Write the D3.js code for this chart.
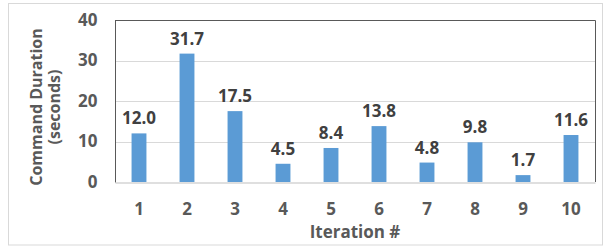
<!DOCTYPE html>
<html><head><meta charset="utf-8">
<script src="https://d3js.org/d3.v7.min.js"></script>
<style>body{margin:0;background:#fff}svg{display:block}</style>
</head><body>
<script>
const categories = ["1","2","3","4","5","6","7","8","9","10"];
const values = [12.0, 31.7, 17.5, 4.5, 8.4, 13.8, 4.8, 9.8, 1.7, 11.6];
const yTicks = [0, 10, 20, 30, 40];
const xTitle = "Iteration #";
const yTitleLines = ["Command Duration", "(seconds)"];

(function () {
const W = 605, H = 246;
const m = {left: 115, right: 10, top: 20, bottom: 64};
const font = "'Open Sans', sans-serif";
const svg = d3.select("body").append("svg").attr("width", W).attr("height", H);

svg.append("rect").attr("x", 8.5).attr("y", 3.5).attr("width", 594).attr("height", 241.5)
  .attr("fill", "#fff").attr("stroke", "#d9d9d9").attr("stroke-width", 1);

const x = d3.scaleBand().domain(categories).range([m.left, W - m.right]).paddingInner(0.69).paddingOuter(0.345);
const y = d3.scaleLinear().domain([0, 40]).range([H - m.bottom, m.top]);

// gridlines
svg.append("g").selectAll("line").data(yTicks.filter(d => d > 0 && d < 40)).join("line")
  .attr("x1", m.left).attr("x2", W - m.right)
  .attr("y1", d => Math.round(y(d)) + 0.5).attr("y2", d => Math.round(y(d)) + 0.5)
  .attr("stroke", "#d9d9d9");

// frame top & right
const yTop = Math.round(y(40)) + 0.5, xRight = W - m.right + 0.5;
svg.append("path").attr("d", `M${m.left},${yTop}H${xRight}V${Math.round(y(0))}`)
  .attr("fill", "none").attr("stroke", "#595959");

// bars
svg.append("g").selectAll("rect").data(values).join("rect")
  .attr("x", (d, i) => x(categories[i])).attr("width", x.bandwidth())
  .attr("y", d => y(d)).attr("height", d => y(0) - y(d))
  .attr("fill", "#5b9bd5");

// data labels
svg.append("g").selectAll("text").data(values).join("text")
  .attr("x", (d, i) => x(categories[i]) + x.bandwidth() / 2)
  .attr("y", d => y(d) - 9)
  .attr("text-anchor", "middle").attr("font-family", font).attr("font-weight", 700)
  .attr("font-size", 17).attr("fill", "#404040")
  .text(d => d.toFixed(1));

// y axis
const yAxis = svg.append("g").attr("transform", `translate(${m.left + 0.5},0)`)
  .call(d3.axisLeft(y).tickValues(yTicks).tickSize(0).tickPadding(18));
yAxis.select(".domain").attr("stroke", "#595959").attr("d", `M0,${yTop}V${Math.round(y(0)) + 0.5}`);
yAxis.selectAll("text").attr("font-family", font).attr("font-weight", 700).attr("font-size", 17).attr("fill", "#595959");

// x axis
const xAxis = svg.append("g").attr("transform", `translate(0,${Math.round(y(0)) + 0.5})`)
  .call(d3.axisBottom(x).tickSize(0).tickPadding(20));
xAxis.select(".domain").attr("stroke", "#bfbfbf");
xAxis.selectAll("text").attr("font-family", font).attr("font-weight", 700).attr("font-size", 17).attr("fill", "#595959");

// titles
svg.append("text").attr("x", (m.left + W - m.right) / 2).attr("y", 238)
  .attr("text-anchor", "middle").attr("font-family", font).attr("font-weight", 700)
  .attr("font-size", 17).attr("fill", "#595959").text(xTitle);

const yt = svg.append("text").attr("transform", `translate(42,107) rotate(-90)`)
  .attr("text-anchor", "middle").attr("font-family", font).attr("font-weight", 700)
  .attr("font-size", 16).attr("fill", "#595959");
yTitleLines.forEach((t, i) => yt.append("tspan").attr("x", 0).attr("y", i * 18).text(t));
})();
</script>
</body></html>
